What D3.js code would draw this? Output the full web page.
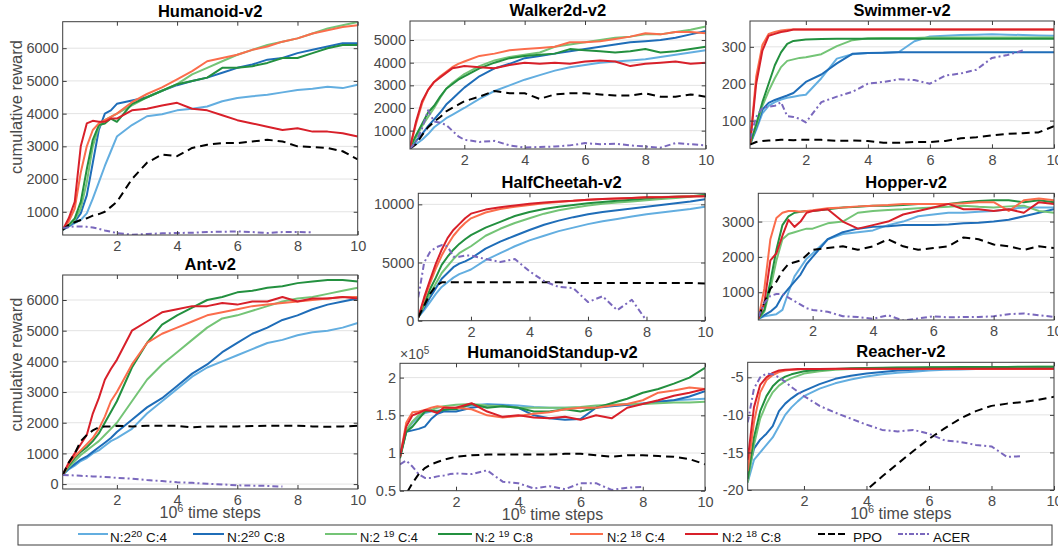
<!DOCTYPE html>
<html>
<head>
<meta charset="utf-8">
<script src="https://cdn.jsdelivr.net/npm/d3@7"></script>
<style>
  body { margin: 0; background: #fff; }
  svg { display: block; font-family: "Liberation Sans", Arial, Helvetica, sans-serif; }
</style>
</head>
<body>
<svg id="chart" width="1058" height="546"></svg>
<script>
// time steps (x10^6) shared by every curve
const steps = [0.2,0.4,0.6,0.8,1.0,1.2,1.4,1.6,1.8,2.0,2.5,3,3.5,4,4.5,5,5.5,6,6.5,7,7.5,8,8.5,9,9.5,10];

// series order: N2^20C4, N2^20C8, N2^19C4, N2^19C8, N2^18C4, N2^18C8, PPO, ACER
const seriesColors = ["#63aee0", "#1f6db8", "#74c476", "#23903f", "#fb6d4c", "#d8202a", "#000000", "#7a68bd"];
const seriesDash = [null, null, null, null, null, null, "8,5", "6,3,2,3"];
const legendExp = ["20", "20", "19", "19", "18", "18"];
const legendC = ["4", "8", "4", "8", "4", "8"];
const xTicks = [2, 4, 6, 8, 10];

const humanoid = [
  [450,550,650,750,950,1400,1900,2400,2850,3300,3650,3920,3980,4100,4150,4220,4380,4480,4530,4580,4650,4720,4760,4820,4780,4880],
  [450,550,700,950,1500,2500,3500,4000,4100,4300,4400,4500,4700,4870,5000,5100,5250,5400,5500,5650,5700,5850,5950,6050,6150,6150],
  [450,580,750,1100,1900,3000,3600,3800,3900,4000,4250,4500,4700,4900,5200,5400,5600,5800,5950,6100,6200,6300,6450,6600,6700,6800],
  [450,600,800,1300,2300,3200,3650,3700,3850,3750,4300,4500,4700,4900,5000,5100,5400,5400,5450,5550,5700,5700,5850,6000,6100,6100],
  [450,700,1100,2200,3000,3500,3700,3800,3900,4000,4350,4600,4800,5050,5300,5600,5700,5800,5950,6050,6200,6300,6450,6550,6650,6700],
  [450,800,1300,3000,3700,3780,3750,3750,3850,3850,4100,4150,4250,4330,4150,4100,3950,3800,3700,3600,3500,3550,3450,3450,3400,3300],
  [450,600,680,750,800,880,930,1000,1150,1300,2000,2500,2750,2700,2950,3050,3100,3100,3150,3200,3150,3000,2980,2950,2850,2600],
  [500,530,550,550,540,520,480,430,390,350,300,320,340,350,360,380,390,400,380,350,380,380,370,null,null,null]
];

const ant = [
  [300,480,600,750,850,1000,1100,1250,1400,1500,1800,2300,2700,3100,3500,3800,4000,4200,4400,4600,4700,4850,4950,5000,5100,5250],
  [300,500,650,800,900,1050,1200,1350,1500,1700,2100,2500,2800,3200,3600,3900,4300,4600,4900,5100,5350,5500,5700,5850,5950,6050],
  [300,550,750,950,1100,1250,1400,1600,1800,2000,2700,3400,3900,4300,4700,5100,5400,5500,5650,5800,5950,6050,6100,6200,6300,6400],
  [300,600,850,1050,1200,1400,1650,2000,2350,2700,3800,4600,5200,5500,5750,6000,6100,6250,6300,6400,6450,6550,6600,6650,6650,6600],
  [300,650,900,1100,1300,1500,1800,2200,2700,3000,3900,4600,4900,5100,5300,5500,5600,5700,5800,5850,5900,5950,6000,6050,6100,6100],
  [300,700,1000,1300,1600,2300,2800,3400,3750,4050,5000,5300,5600,5700,5800,5800,5900,5850,5950,5950,6100,5950,6050,6050,6100,6050],
  [300,700,1000,1400,1600,1750,1850,1880,1880,1900,1880,1900,1900,1900,1850,1880,1880,1880,1890,1900,1900,1900,1880,1870,1880,1900],
  [300,290,280,270,260,250,240,230,220,200,180,130,100,60,40,10,-10,-40,-50,-60,-80,null,null,null,null,null]
];

const walker = [
  [250,400,600,850,1150,1350,1550,1700,1850,2000,2400,2750,3000,3250,3450,3650,3800,3900,4000,4050,4100,4150,4250,4350,4450,4550],
  [250,550,850,1200,1500,1800,2150,2400,2650,2900,3400,3750,3950,4200,4300,4400,4500,4600,4700,4800,4900,4950,5000,5100,5250,5400],
  [250,700,1200,1600,2000,2450,2850,3100,3300,3500,3850,4100,4250,4350,4450,4700,4800,4900,5000,5100,5150,5250,5250,5350,5450,5600],
  [250,800,1300,1800,2100,2500,2850,3050,3250,3400,3750,4000,4200,4300,4350,4400,4600,4550,4500,4450,4500,4600,4450,4500,4600,4700],
  [250,1300,2200,2800,3150,3400,3600,3800,3950,4050,4300,4400,4550,4600,4650,4700,4900,4900,4950,5050,5150,5300,5250,5350,5350,5300],
  [250,1400,2300,2800,3150,3350,3550,3750,3800,3850,3800,3750,3900,4000,3950,4000,3950,4050,4100,4050,3850,3950,4000,4050,3950,4000],
  [200,400,800,1150,1400,1600,1850,2000,2150,2300,2500,2750,2650,2650,2400,2600,2650,2650,2600,2550,2550,2650,2500,2500,2600,2500],
  [200,500,1100,1900,1400,1350,1250,1000,750,600,500,550,350,250,280,300,350,450,400,420,350,300,250,450,400,350]
];

const halfCheetah = [
  [300,900,1600,2300,2900,3300,3700,4000,4200,4400,5200,5800,6400,6900,7300,7700,8000,8300,8550,8750,8950,9150,9300,9450,9600,9800],
  [300,1100,2000,2800,3600,4100,4600,4900,5100,5350,6200,6800,7300,7800,8250,8600,8900,9150,9350,9500,9650,9800,9950,10100,10250,10450],
  [300,1300,2300,3200,4100,4700,5300,5800,6100,6400,7300,7900,8400,8800,9200,9500,9700,9900,10050,10150,10250,10350,10450,10550,10650,10800],
  [300,1500,2700,3700,4800,5500,6100,6600,7000,7350,8000,8500,9000,9350,9600,9800,9950,10100,10200,10300,10400,10500,10600,10650,10700,10800],
  [300,1800,3200,4500,5600,6500,7300,7900,8400,8800,9300,9600,9800,9950,10100,10200,10300,10400,10450,10500,10550,10600,10630,10660,10690,10700],
  [300,2000,3500,4900,6100,7100,7800,8300,8800,9200,9550,9750,9900,10050,10150,10250,10300,10400,10450,10500,10550,10600,10620,10650,10680,10700],
  [300,1300,2300,3000,3300,3300,3300,3300,3300,3300,3300,3300,3300,3300,3300,3300,3250,3250,3250,3250,3250,3250,3250,3250,3250,3200],
  [2000,5000,5900,6300,6500,6400,5500,5500,5600,5600,5300,5050,5300,4250,3400,2900,2800,1600,2100,900,1800,0,null,null,null,null]
];

const standup = [
  [0.95,1.30,1.40,1.48,1.53,1.55,1.56,1.57,1.58,1.60,1.63,1.65,1.64,1.63,1.61,1.60,1.60,1.60,1.61,1.63,1.64,1.66,1.68,1.70,1.71,1.72],
  [0.95,1.28,1.30,1.32,1.35,1.45,1.52,1.55,1.55,1.55,1.60,1.63,1.63,1.60,1.50,1.46,1.44,1.45,1.60,1.62,1.64,1.65,1.68,1.70,1.75,1.82],
  [0.95,1.30,1.42,1.50,1.55,1.57,1.60,1.62,1.63,1.64,1.65,1.63,1.62,1.60,1.60,1.60,1.60,1.61,1.63,1.64,1.65,1.65,1.66,1.67,1.67,1.68],
  [0.93,1.28,1.35,1.45,1.55,1.56,1.55,1.57,1.58,1.58,1.65,1.60,1.62,1.60,1.55,1.55,1.58,1.55,1.60,1.66,1.72,1.80,1.85,1.92,2.00,2.13],
  [0.95,1.40,1.54,1.55,1.57,1.60,1.62,1.61,1.60,1.60,1.58,1.50,1.47,1.49,1.52,1.54,1.58,1.60,1.60,1.63,1.65,1.70,1.80,1.83,1.87,1.85],
  [0.95,1.35,1.50,1.53,1.57,1.56,1.53,1.60,1.60,1.60,1.66,1.55,1.48,1.50,1.47,1.46,1.48,1.44,1.50,1.46,1.60,1.65,1.70,1.76,1.80,1.85],
  [0.35,0.46,0.60,0.72,0.80,0.85,0.88,0.91,0.93,0.95,0.97,0.98,0.98,0.98,0.98,0.98,0.99,0.99,0.97,0.95,0.97,0.97,0.96,0.95,0.92,0.85],
  [0.85,0.90,0.82,0.72,0.67,0.67,0.69,0.70,0.72,0.73,0.72,0.77,0.62,0.60,0.53,0.56,0.52,0.60,0.60,0.51,0.54,0.55,null,null,null,null]
];

const swimmer = [
  [35,75,120,140,150,157,162,165,168,170,215,268,280,283,284,286,315,328,330,332,333,334,333,332,331,330],
  [35,80,130,148,156,162,168,175,190,205,225,255,281,283,284,285,285,285,285,285,285,285,285,285,285,285],
  [35,85,140,180,215,245,262,266,270,272,280,302,318,323,324,324,324,325,325,325,325,325,325,325,325,325],
  [35,90,150,200,250,285,308,316,318,320,321,322,322,322,322,322,322,322,322,322,322,322,322,322,322,322],
  [35,220,305,335,340,344,346,347,347,347,347,347,347,347,347,347,347,347,347,347,347,347,347,347,347,347],
  [35,200,290,330,335,340,343,347,347,347,347,347,347,347,347,347,347,347,347,347,347,347,347,347,347,347],
  [35,42,45,46,47,48,48,47,48,48,48,45,46,45,40,40,42,42,45,52,55,60,64,66,68,85],
  [50,110,135,138,140,150,112,110,105,95,150,165,178,200,205,212,210,200,222,228,238,270,278,290,null,null]
];

const hopper = [
  [250,320,350,380,500,1000,1450,1700,1950,2100,2500,2650,2700,2750,2900,3000,3150,3200,3250,3250,3280,3300,3350,3400,3400,3400],
  [250,350,450,600,900,1100,1300,1500,1800,2000,2500,2700,2800,2850,2870,2900,2900,2900,2920,2950,2970,3000,3050,3150,3250,3350],
  [250,450,1100,1900,2500,2650,2700,2750,2800,2800,2950,3000,3250,3300,3330,3350,3380,3400,3420,3450,3420,3400,3430,3450,3300,3250],
  [250,500,1300,2200,2900,3150,3250,3280,3300,3300,3350,3400,3420,3450,3450,3470,3500,3500,3500,3550,3580,3600,3600,3550,3600,3550],
  [250,1100,2500,3100,3250,3300,3300,3280,3300,3320,3380,3400,3430,3450,3470,3500,3500,3500,3500,3520,3550,3550,3300,3600,3650,3600],
  [250,700,1900,2100,2600,3050,2850,3000,3250,3300,3350,3000,2800,2900,3000,3200,3300,3400,3500,3350,3350,3300,3350,3250,3550,3500],
  [300,700,1100,1300,1600,1800,1850,1900,2050,2200,2250,2300,2200,2300,2500,2300,2200,2250,2300,2550,2500,2350,2300,2200,2300,2250],
  [300,700,900,950,950,850,750,650,550,500,450,320,300,250,350,200,260,320,290,300,300,320,380,400,350,300]
];

const reacher = [
  [-19,-16,-15,-14,-13,-11.5,-10,-9,-8.2,-7.5,-6.5,-5.8,-5.3,-4.9,-4.6,-4.4,-4.25,-4.1,-4,-3.95,-3.9,-3.85,-3.8,-3.75,-3.72,-3.7],
  [-18,-14.5,-13.3,-12.5,-11.5,-9.5,-8.5,-7.8,-7.2,-6.8,-5.9,-5.2,-4.8,-4.5,-4.3,-4.1,-4,-3.9,-3.85,-3.8,-3.78,-3.76,-3.74,-3.72,-3.71,-3.7],
  [-19,-14,-10.5,-8.5,-7,-6.1,-5.5,-5.1,-4.8,-4.5,-4.2,-4,-3.9,-3.8,-3.75,-3.72,-3.7,-3.68,-3.66,-3.65,-3.64,-3.63,-3.62,-3.61,-3.6,-3.6],
  [-18.5,-13,-9.5,-7.5,-6.2,-5.4,-4.9,-4.6,-4.4,-4.2,-4,-3.9,-3.8,-3.75,-3.72,-3.7,-3.68,-3.66,-3.65,-3.64,-3.63,-3.62,-3.61,-3.6,-3.6,-3.6],
  [-17.5,-11,-7,-5.4,-4.7,-4.3,-4.1,-4,-3.95,-3.9,-3.9,-3.9,-3.9,-3.9,-3.9,-3.9,-3.9,-3.9,-3.9,-3.9,-3.9,-3.9,-3.9,-3.9,-3.9,-3.9],
  [-16,-9,-6,-5,-4.4,-4.1,-4,-3.95,-3.9,-3.9,-3.88,-3.87,-3.86,-3.85,-3.85,-3.85,-3.85,-3.85,-3.85,-3.85,-3.85,-3.85,-3.85,-3.85,-3.85,-3.85],
  [null,null,null,null,null,null,null,null,null,null,null,null,-22,-20,-18.2,-16.5,-14.8,-13.2,-11.8,-10.5,-9.5,-8.8,-8.5,-8.3,-8,-7.6],
  [-11,-6.5,-5,-4.5,-4.6,-5,-5.6,-6.3,-6.9,-7.5,-8.8,-9.7,-10.5,-11.3,-12,-12.2,-12,-12.5,-13.4,-13.6,-14,-14.2,-15.6,-15.5,null,null]
];

const panels = [
  { name: "Humanoid-v2", series: humanoid, box: [62.7, 21.7, 357.7, 235], yDomain: [290, 6810], yTicks: [1000,2000,3000,4000,5000,6000], ylabelY: 107 },
  { name: "Ant-v2", series: ant, box: [62.7, 275, 357.7, 489], yDomain: [-160, 6815], yTicks: [0,1000,2000,3000,4000,5000,6000], ylabelY: 364.5, xlabel: true },
  { name: "Walker2d-v2", series: walker, box: [410, 21, 705.7, 149], yDomain: [190, 5840], yTicks: [1000,2000,3000,4000,5000] },
  { name: "HalfCheetah-v2", series: halfCheetah, box: [418.3, 193.3, 705, 320.7], yDomain: [0, 10950], yTicks: [0,5000,10000] },
  { name: "HumanoidStandup-v2", series: standup, box: [400, 363.3, 705, 490.7], yDomain: [0.5, 2.19], yTicks: [0.5,1,1.5,2], xlabel: true, exponent: "5" },
  { name: "Swimmer-v2", series: swimmer, box: [750, 21, 1054, 148.3], yDomain: [25, 370], yTicks: [100,200,300] },
  { name: "Hopper-v2", series: hopper, box: [758.3, 193.3, 1054, 320], yDomain: [215, 3800], yTicks: [1000,2000,3000] },
  { name: "Reacher-v2", series: reacher, box: [747.7, 362.3, 1054, 490], yDomain: [-20, -3], yTicks: [-20,-15,-10,-5], xlabel: true }
];

const svg = d3.select("#chart");
const axisColor = "#3c3c3c";
const textColor = "#4a4a4a";

panels.forEach((p, pi) => {
  const [l, t, r, b] = p.box;
  const x = d3.scaleLinear().domain([0.2, 10]).range([l, r]);
  const y = d3.scaleLinear().domain(p.yDomain).range([b, t]);
  const g = svg.append("g");

  // horizontal grid
  g.selectAll(".grid").data(p.yTicks).enter().append("line")
    .attr("x1", l).attr("x2", r)
    .attr("y1", d => y(d)).attr("y2", d => y(d))
    .attr("stroke", "#e3e3e3").attr("stroke-width", 1);

  // curves
  const clipId = "clip" + pi;
  svg.append("clipPath").attr("id", clipId)
    .append("rect").attr("x", l).attr("y", t).attr("width", r - l).attr("height", b - t);

  const line = d3.line()
    .defined(d => d !== null)
    .x((d, i) => x(steps[i]))
    .y(d => y(d));

  g.append("g").attr("clip-path", `url(#${clipId})`)
    .selectAll("path").data(p.series).enter().append("path")
    .attr("d", d => line(d))
    .attr("fill", "none")
    .attr("stroke", (d, i) => seriesColors[i])
    .attr("stroke-width", 2)
    .attr("stroke-linejoin", "round")
    .attr("stroke-dasharray", (d, i) => seriesDash[i]);

  // axes
  const bottom = g.append("g").attr("transform", `translate(0,${b})`)
    .call(d3.axisBottom(x).tickValues(xTicks).tickSize(-4).tickPadding(6).tickFormat(d => d));
  const top = g.append("g").attr("transform", `translate(0,${t})`)
    .call(d3.axisTop(x).tickValues(xTicks).tickSize(-4).tickFormat(""));
  const left = g.append("g").attr("transform", `translate(${l},0)`)
    .call(d3.axisLeft(y).tickValues(p.yTicks).tickSize(-4).tickPadding(4).tickFormat(d => String(d)));
  const right = g.append("g").attr("transform", `translate(${r},0)`)
    .call(d3.axisRight(y).tickValues(p.yTicks).tickSize(-4).tickFormat(""));

  [bottom, top, left, right].forEach(a => {
    a.select(".domain").remove();
    a.selectAll(".tick line").attr("stroke", axisColor);
    a.selectAll("text").attr("fill", textColor).attr("font-size", 14.5).attr("font-family", null);
  });

  g.append("rect")
    .attr("x", l).attr("y", t).attr("width", r - l).attr("height", b - t)
    .attr("fill", "none").attr("stroke", axisColor).attr("stroke-width", 1);

  // title
  g.append("text")
    .attr("x", (l + r) / 2).attr("y", t - 5)
    .attr("text-anchor", "middle")
    .attr("font-size", 16.5).attr("font-weight", "bold").attr("fill", "#000")
    .text(p.name);

  if (p.exponent) {
    const ex = g.append("text").attr("x", l).attr("y", t - 4)
      .attr("font-size", 14).attr("fill", textColor);
    ex.append("tspan").text("×10");
    ex.append("tspan").attr("dy", -5).attr("font-size", 10).text(p.exponent);
  }

  if (p.ylabelY) {
    g.append("text")
      .attr("transform", `translate(22,${p.ylabelY}) rotate(-90)`)
      .attr("text-anchor", "middle")
      .attr("font-size", 16.5).attr("fill", textColor)
      .text("cumulative reward");
  }

  if (p.xlabel) {
    const xl = g.append("text")
      .attr("x", (l + r) / 2).attr("y", b + 29)
      .attr("text-anchor", "middle")
      .attr("font-size", 16).attr("fill", textColor);
    xl.append("tspan").text("10");
    xl.append("tspan").attr("dy", -6).attr("font-size", 11).text("6");
    xl.append("tspan").attr("dy", 6).text(" time steps");
  }
});

// legend
const legendLines = [[78,108],[193,224],[325,357],[438,472],[570,603],[685,718],[818,848],[898,930]];
const legendTextX = [110, 227, 360, 475, 607, 722, 853, 933];
const legendTextW = [57, 58, 58, 58, 58, 59, 29, 37];

const lg = svg.append("g");
lg.append("rect").attr("x", 18).attr("y", 525).attr("width", 1034).attr("height", 20)
  .attr("fill", "#fff").attr("stroke", axisColor).attr("stroke-width", 1);

seriesColors.forEach((c, i) => {
  lg.append("line")
    .attr("x1", legendLines[i][0]).attr("x2", legendLines[i][1])
    .attr("y1", 534).attr("y2", 534)
    .attr("stroke", c).attr("stroke-width", 2)
    .attr("stroke-dasharray", i === 6 ? "7,3" : (i === 7 ? "5,2,2,2" : null));

  const txt = lg.append("text")
    .attr("x", legendTextX[i]).attr("y", 542)
    .attr("font-size", 12.5).attr("fill", "#111")
    .attr("textLength", legendTextW[i]).attr("lengthAdjust", "spacingAndGlyphs");
  if (i < 6) {
    const gap = legendExp[i] === "20" ? "" : " ";
    txt.append("tspan").text("N:2" + gap);
    txt.append("tspan").attr("dy", -5).attr("font-size", 9.5).text(legendExp[i]);
    txt.append("tspan").attr("dy", 5).text(" C:" + legendC[i]);
  } else {
    txt.text(i === 6 ? "PPO" : "ACER");
  }
});
</script>
</body>
</html>
